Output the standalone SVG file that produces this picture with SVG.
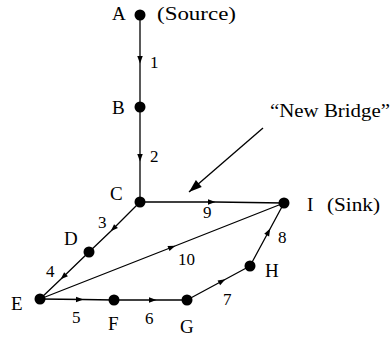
<svg xmlns="http://www.w3.org/2000/svg" width="392" height="337" viewBox="0 0 392 337" font-family="'Liberation Serif', 'Times New Roman', Times, 'DejaVu Serif', serif">
<style>
.e{fill:none;stroke:#000;stroke-width:1.3;marker-mid:url(#ah)}
.n{fill:#000}
text{font-family:'Liberation Serif','Times New Roman',Times,'DejaVu Serif',serif;fill:#000}
.lbl{font-size:19px}
.num{font-size:17px}
</style>
<defs>
<marker id="ah" markerUnits="userSpaceOnUse" markerWidth="8" markerHeight="6" refX="7" refY="2.75" orient="auto" overflow="visible">
<path d="M0,0 L7.5,2.75 L0,5.5 z" fill="#000"/>
</marker>
<marker id="big" markerUnits="userSpaceOnUse" markerWidth="14" markerHeight="10" refX="13" refY="4.5" orient="auto" overflow="visible">
<path d="M0,0 L13,4.5 L0,9 z" fill="#000"/>
</marker>
</defs>
<rect width="392" height="337" fill="#fff"/>
<g id="connectors">
<path class="e" d="M140,15 L140,63 L140,107"/>
<path class="e" d="M140,107 L140,161 L140,202"/>
<path class="e" d="M140,202 L215,202 L284,203"/>
<path class="e" d="M140,202 L111,231 L89,252"/>
<path class="e" d="M89,252 L61,279 L40,299"/>
<path class="e" d="M40,299 L83,299.5 L114,300"/>
<path class="e" d="M114,300 L156,300 L187,300"/>
<path class="e" d="M40,299 L175,246 L284,203"/>
<path class="e" d="M187,300 L225,279.5 L250,266"/>
<path class="e" d="M250,266 L270,229 L284,203"/>
<line x1="263" y1="128" x2="189" y2="192" stroke="#000" stroke-width="1.3" marker-end="url(#big)"/>
</g>
<g id="A"><circle class="n" cx="140" cy="15" r="5.5"/><text class="lbl" x="112" y="20">A</text><text class="lbl" x="157" y="20" textLength="79" lengthAdjust="spacingAndGlyphs">(Source)</text></g>
<g id="B"><circle class="n" cx="140" cy="107" r="5.5"/><text class="lbl" x="112" y="114">B</text></g>
<g id="C"><circle class="n" cx="140" cy="202" r="5.5"/><text class="lbl" x="110" y="200">C</text></g>
<g id="D"><circle class="n" cx="89" cy="252" r="5.5"/><text class="lbl" x="64" y="245">D</text></g>
<g id="E"><circle class="n" cx="40" cy="299" r="5.5"/><text class="lbl" x="11" y="310">E</text></g>
<g id="F"><circle class="n" cx="114" cy="300" r="5.5"/><text class="lbl" x="108" y="330">F</text></g>
<g id="G"><circle class="n" cx="187" cy="300" r="5.5"/><text class="lbl" x="180" y="333">G</text></g>
<g id="H"><circle class="n" cx="250" cy="266" r="5.5"/><text class="lbl" x="265" y="277">H</text></g>
<g id="I"><circle class="n" cx="284" cy="203" r="5.5"/><text class="lbl" x="307" y="211">I</text><text class="lbl" x="327" y="211" textLength="53" lengthAdjust="spacingAndGlyphs">(Sink)</text></g>
<g id="labels">
<text class="num" x="150" y="68">1</text>
<text class="num" x="150" y="162">2</text>
<text class="num" x="98" y="228">3</text>
<text class="num" x="46" y="277">4</text>
<text class="num" x="72" y="323">5</text>
<text class="num" x="145" y="324">6</text>
<text class="num" x="223" y="305">7</text>
<text class="num" x="278" y="243">8</text>
<text class="num" x="203" y="218">9</text>
<text class="num" x="178" y="265">10</text>
<text class="lbl" x="270" y="117" textLength="120" lengthAdjust="spacingAndGlyphs">“New Bridge”</text>
</g>
</svg>
